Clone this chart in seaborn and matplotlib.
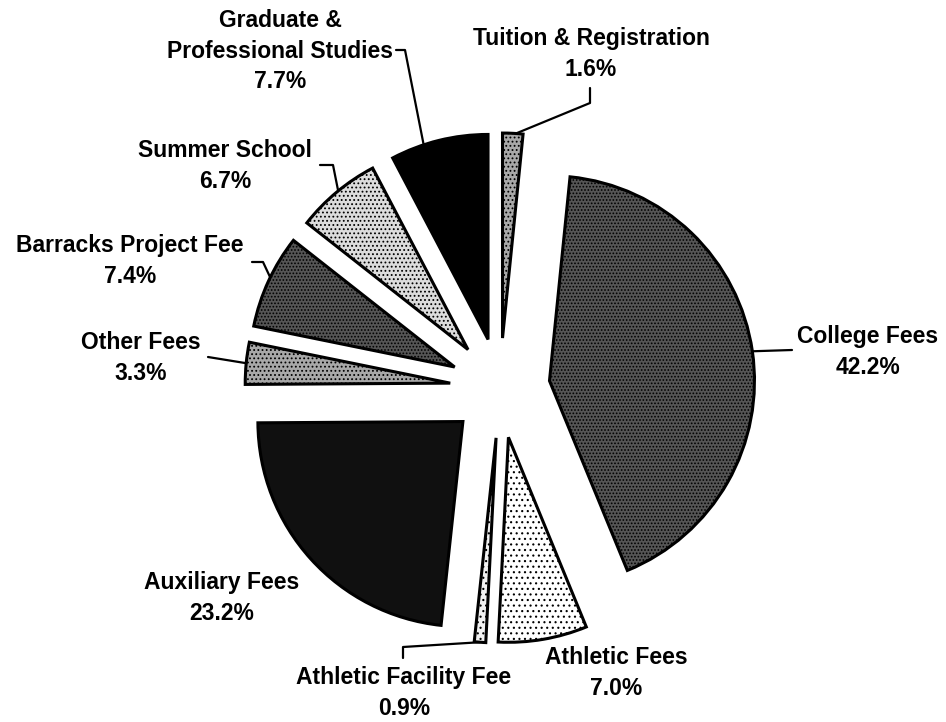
import numpy as np
import matplotlib
matplotlib.use("Agg")
import matplotlib.pyplot as plt
import seaborn as sns

# slices in clockwise order starting at 12 o'clock
categories = [
    "Tuition & Registration",
    "College Fees",
    "Athletic Fees",
    "Athletic Facility Fee",
    "Auxiliary Fees",
    "Other Fees",
    "Barracks Project Fee",
    "Summer School",
    "Graduate &\nProfessional Studies",
]
shares = [1.6, 42.2, 7.0, 0.9, 23.2, 3.3, 7.4, 6.7, 7.7]

# grey fill + stipple for each slice
fills = ["#a8a8a8", "#555555", "#ffffff", "#f2f2f2", "#101010",
         "#a8a8a8", "#555555", "#dcdcdc", "#000000"]
hatches = ["....", ".....", "...", "...", "", "....", ".....", "....", ""]

# label centres in pixels (from top-left) and leader routing
label_px = [(591, 54), (868, 352), (616, 673), (404, 693), (222, 598),
            (141, 358), (130, 261), (225, 166), (280, 51)]
leader_frac = [0.65, 0.5, None, 0.5, None, 0.5, 0.54, 0.52, 0.34]
leader_px = [[(590, 88), (590, 103)], [(792, 350)], None, [(403, 658), (403, 647)],
             None, [(208, 357)], [(252, 262), (263, 262)], [(320, 165), (333, 165)],
             [(396, 50), (405, 50)]]

W, H = 946, 722
CX, CY, R = 500, 388, 205


def to_data(p):
    return ((p[0] - CX) / R, (CY - p[1]) / R)


sns.set_style("white")
plt.rcParams["font.family"] = ["Liberation Sans", "DejaVu Sans"]
plt.rcParams["hatch.linewidth"] = 0.8

fig = plt.figure(figsize=(W / 100, H / 100), dpi=100)
ax = fig.add_axes([0, 0, 1, 1])

wedges, _ = ax.pie(shares, startangle=90, counterclock=False, radius=1,
                   explode=[50 / R] * len(shares), colors=fills,
                   wedgeprops=dict(edgecolor="black", linewidth=2.2))
for w, h in zip(wedges, hatches):
    w.set_hatch(h)

ax.set_xlim(-CX / R, (W - CX) / R)
ax.set_ylim(-(H - CY) / R, CY / R)
ax.set_aspect("auto")
ax.axis("off")

cum = np.concatenate([[0], np.cumsum(shares)]) / sum(shares) * 360
for i, (w, name) in enumerate(zip(wedges, categories)):
    tx, ty = to_data(label_px[i])
    ax.text(tx, ty, f"{name}\n{shares[i]:.1f}%", ha="center", va="center",
            fontsize=16.5, fontweight="bold", linespacing=1.42, color="black")
    if leader_frac[i] is None:
        continue
    a = np.radians(cum[i] + leader_frac[i] * (cum[i + 1] - cum[i]))
    cx, cy = w.center
    arc = (cx + w.r * np.sin(a), cy + w.r * np.cos(a))
    pts = [to_data(p) for p in leader_px[i]] + [arc]
    xs, ys = zip(*pts)
    ax.plot(xs, ys, color="black", linewidth=1.6)

fig.savefig("out.png", dpi=100, facecolor="white")
